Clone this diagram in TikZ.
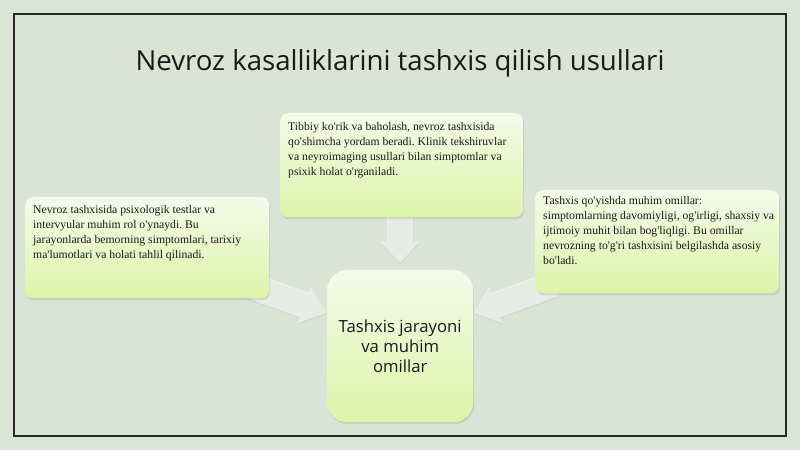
\documentclass[tikz,border=0pt]{standalone}
\usepackage{fontspec}
\setmainfont{Liberation Serif}
\newfontfamily\titlefont{Open Sans}
\usetikzlibrary{shadows}
\newcommand\ap{\textquotesingle}
\definecolor{bgout}{RGB}{217,229,213}
\definecolor{bgin}{RGB}{218,227,214}
\definecolor{boxtop}{RGB}{245,250,234}
\definecolor{boxbot}{RGB}{221,244,168}
\definecolor{txt}{RGB}{25,25,25}
\tikzset{
  infobox/.style={rounded corners=8pt, top color=boxtop, bottom color=boxbot, draw=none,
    minimum width=#1, inner sep=0pt, anchor=north west,
    drop shadow={opacity=0.22, shadow xshift=1pt, shadow yshift=-2pt}},
  infotext/.style={anchor=north west, inner sep=0pt, align=left, text=txt,
    font=\fontsize{11.7}{15}\selectfont\frenchspacing},
  hubbox/.style={rounded corners=20pt, top color=boxtop, bottom color=boxbot, draw=none,
    minimum width=146pt, minimum height=152pt, inner sep=0pt, align=center, text=txt,
    font=\titlefont\fontsize{16.7}{20}\selectfont,
    drop shadow={opacity=0.22, shadow xshift=1pt, shadow yshift=-2pt}},
  blockarrow/.style={fill=white, fill opacity=0.5, draw=none,
    drop shadow={opacity=0.1, shadow xshift=0.5pt, shadow yshift=-1.5pt}},
}
\begin{document}
\begin{tikzpicture}[x=1pt,y=-1pt]
\useasboundingbox (0,0) rectangle (800,450);
\fill[bgout] (0,0) rectangle (800,450);
\fill[bgin] (14,14) rectangle (786,436);
\draw[line width=1.5pt, black!85] (14,14) rectangle (786,436);

\node[font=\titlefont\fontsize{27.6}{32}\selectfont, text=txt] (title) at (400,63)
  {Nevroz kasalliklarini tashxis qilish usullari};

% arrow tips
\coordinate (tipT) at (400,263);
\coordinate (tipL) at (326,313);
\coordinate (tipR) at (474,313);

\begin{scope}[shift={(tipT)}, rotate=-90]
  \fill[blockarrow] (0,0) -- (-21,19) -- (-21,13) -- (-50,13) -- (-50,-13) -- (-21,-13) -- (-21,-19) -- cycle;
\end{scope}
\begin{scope}[shift={(tipL)}, rotate=-20]
  \fill[blockarrow] (0,0) -- (-23,19) -- (-23,13) -- (-85,13) -- (-85,-13) -- (-23,-13) -- (-23,-19) -- cycle;
\end{scope}
\begin{scope}[shift={(tipR)}, rotate=200]
  \fill[blockarrow] (0,0) -- (-23,19) -- (-23,13) -- (-85,13) -- (-85,-13) -- (-23,-13) -- (-23,-19) -- cycle;
\end{scope}

\node[infobox=244pt, minimum height=101pt] (left) at (25,197) {};
\node[infobox=243pt, minimum height=104pt] (top) at (280,113) {};
\node[infobox=244pt, minimum height=103pt] (right) at (535,190) {};
\node[hubbox, anchor=north west] (hub) at (327,270) {Tashxis jarayoni\\va muhim\\omillar};

\node[infotext] (lefttext) at ([xshift=8pt,yshift=-8pt]left.north west)
  {Nevroz tashxisida psixologik testlar va\\intervyular muhim rol o\ap ynaydi. Bu\\jarayonlarda bemorning simptomlari, tarixiy\\ma\ap lumotlari va holati tahlil qilinadi.};
\node[infotext] (toptext) at ([xshift=8pt,yshift=-9pt]top.north west)
  {Tibbiy ko\ap rik va baholash, nevroz tashxisida\\qo\ap shimcha yordam beradi. Klinik tekshiruvlar\\va neyroimaging usullari bilan simptomlar va\\psixik holat o\ap rganiladi.};
\node[infotext] (righttext) at ([xshift=8pt,yshift=-6pt]right.north west)
  {Tashxis qo\ap yishda muhim omillar:\\simptomlarning davomiyligi, og\ap irligi, shaxsiy va\\ijtimoiy muhit bilan bog\ap liqligi. Bu omillar\\nevrozning to\ap g\ap ri tashxisini belgilashda asosiy\\bo\ap ladi.};
\end{tikzpicture}
\end{document}
